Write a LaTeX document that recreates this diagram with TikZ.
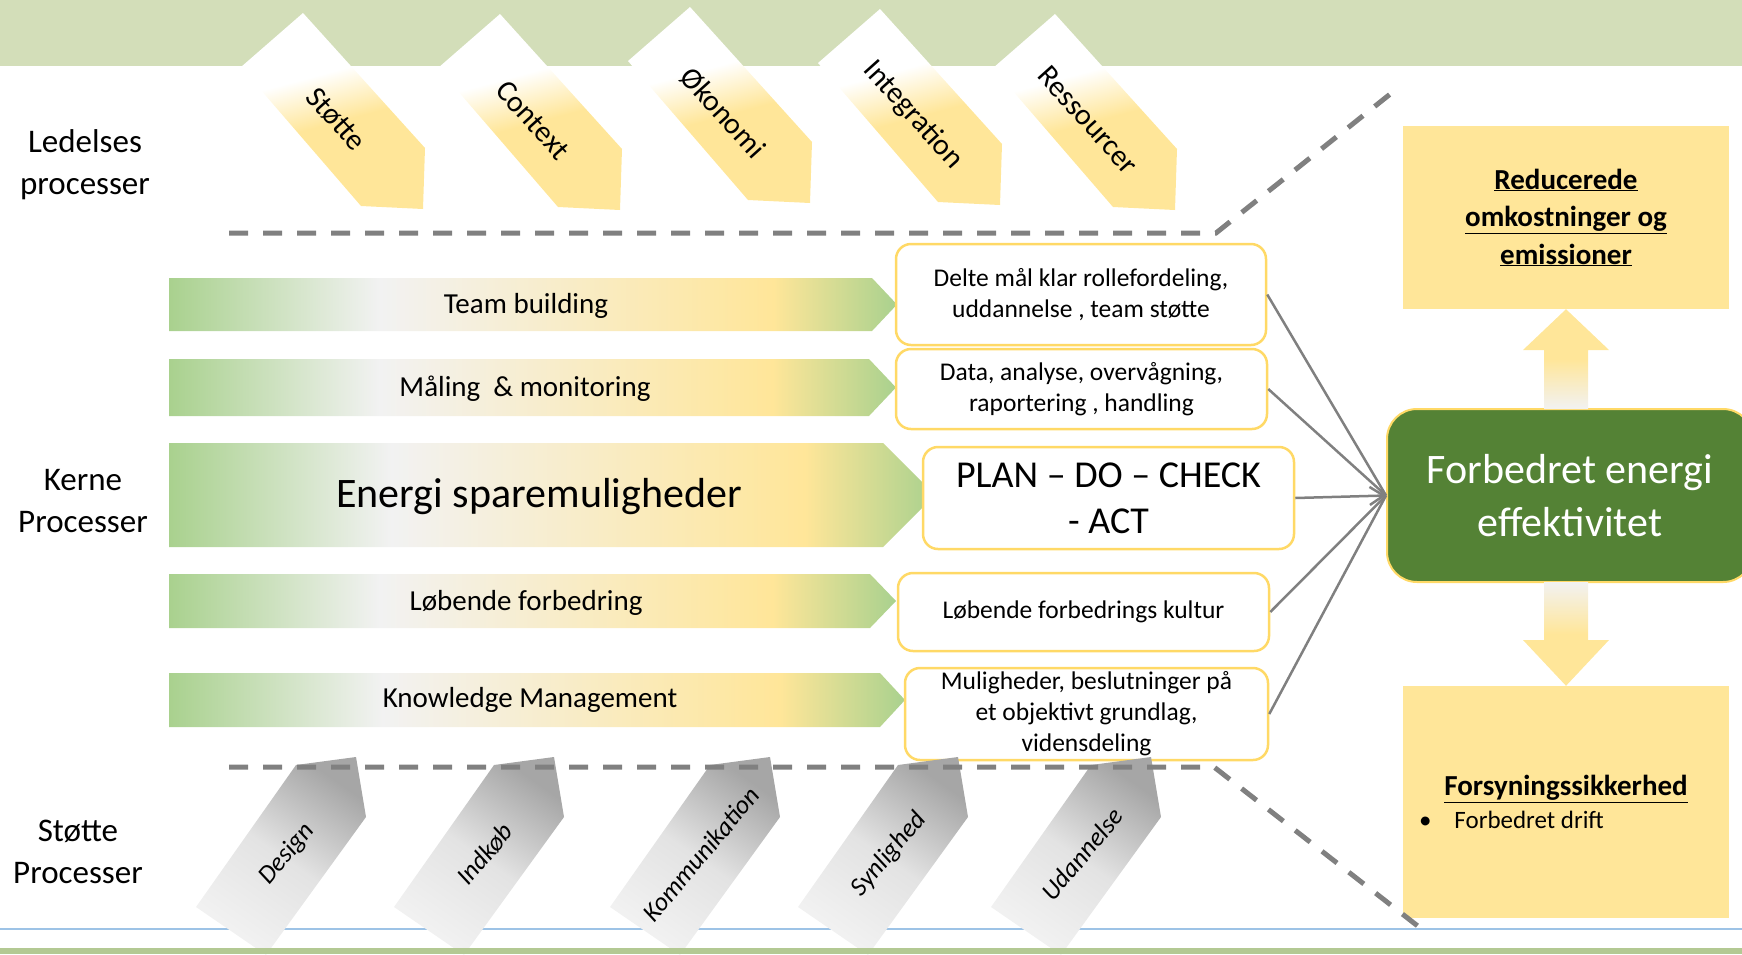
\documentclass[tikz,border=0pt]{standalone}
\usepackage{fontspec}
\setmainfont{Carlito}
\usepackage{tikz}
\usetikzlibrary{arrows.meta}

\definecolor{bandgreen}{HTML}{D3DEB9}
\definecolor{footgreen}{HTML}{B3C993}
\definecolor{lineblue}{HTML}{9DC3E6}
\definecolor{ledyellow}{HTML}{FFE699}
\definecolor{procgreen}{HTML}{A9D18E}
\definecolor{procwhite}{HTML}{F2F2F2}
\definecolor{boxyellow}{HTML}{FFD966}
\definecolor{effgreen}{HTML}{548235}
\definecolor{sepgrey}{HTML}{808080}
\definecolor{supdark}{HTML}{A6A6A6}

\pgfdeclarehorizontalshading{procshade}{100bp}{color(0bp)=(procgreen); color(25bp)=(procgreen); color(39.5bp)=(procwhite); color(66.5bp)=(ledyellow); color(75bp)=(procgreen); color(100bp)=(procgreen)}
\pgfdeclareverticalshading{ledshade}{100bp}{color(0bp)=(ledyellow); color(47bp)=(ledyellow); color(60bp)=(white); color(100bp)=(white)}

\begin{document}
\begin{tikzpicture}[x=1pt, y=-1pt,
  procarrow/.style={shading=procshade},
  procfont/.style={font=\fontsize{29}{35}\selectfont},
  infobox/.style={draw=boxyellow, line width=2.5pt, fill=white, rounded corners=15pt, align=center, inner sep=0pt, font=\fontsize{25.5}{31}\selectfont},
  sidelabel/.style={align=center, font=\fontsize{33}{42}\selectfont},
  link/.style={sepgrey, line width=2.5pt},
  sepline/.style={sepgrey, line width=5pt, dash pattern=on 19pt off 15pt},
  gainbox/.style={fill=ledyellow, align=center, inner sep=0pt, minimum width=326, font=\fontsize{29}{37.5}\selectfont\bfseries}]
\useasboundingbox (0,0) rectangle (1742,954);
\fill[bandgreen] (0,0) rectangle (1742,66);
\draw[lineblue, line width=1.5pt] (0,929) -- (1742,929);
%
\foreach \x/\y/\lab [count=\i] in {303/13/Støtte, 500/14/Context, 690/7/Økonomi, 880/9/Integration, 1055/14/Ressourcer}{
  \shade[shading=ledshade, shading angle=15] (\x,\y) -- ++(122,135) -- ++(-2,61) -- ++(-62,-3) -- ++(-120,-139) -- cycle;
  \node[rotate=-48, font=\fontsize{30}{36}\selectfont] (led\i) at (\x+33,\y+106) {\lab};
}
%
\node[sidelabel] (ledelses) at (85,165) {Ledelses\\processer};
\node[sidelabel] (kerne) at (83,501) {Kerne\\Processer};
\node[sidelabel] (stoette) at (78,852) {Støtte\\Processer};
%
\shade[procarrow] (169,278) -- (872,278) -- (897,304.5) -- (872,331) -- (169,331) -- cycle;
\shade[procarrow] (169,359) -- (869,359) -- (896,387.5) -- (869,416) -- (169,416) -- cycle;
\shade[procarrow] (169,443) -- (883,443) -- (935,495) -- (883,547) -- (169,547) -- cycle;
\shade[procarrow] (169,574) -- (870,574) -- (896,601) -- (870,628) -- (169,628) -- cycle;
\shade[procarrow] (169,673) -- (880,673) -- (905,700) -- (880,727) -- (169,727) -- cycle;
\node[procfont] (team) at (526,306) {Team building};
\node[procfont] (maaling) at (525,389) {Måling\ \ \& monitoring};
\node[font=\fontsize{42}{50}\selectfont] (energi) at (539,497) {Energi sparemuligheder};
\node[procfont] (loebende) at (526,603) {Løbende forbedring};
\node[procfont] (knowledge) at (530,700) {Knowledge Management};
%
\node[infobox, minimum width=370, minimum height=101] (delte) at (1081,294.5) {Delte mål klar rollefordeling,\\uddannelse , team støtte};
\node[infobox, minimum width=371, minimum height=80] (data) at (1081.5,389) {Data, analyse, overvågning,\\raportering , handling};
\node[infobox, minimum width=371, minimum height=102, font=\fontsize{38}{46}\selectfont] (pdca) at (1108.5,498) {PLAN – DO – CHECK\\- ACT};
\node[infobox, minimum width=371, minimum height=78] (kultur) at (1083.5,612) {Løbende forbedrings kultur};
\node[infobox, minimum width=363, minimum height=92] (mulig) at (1086.5,714) {Muligheder, beslutninger på\\et objektivt grundlag,\\vidensdeling};
%
\node[draw=boxyellow, line width=2pt, fill=effgreen, rounded corners=30pt, text=white, align=center, minimum width=366, minimum height=173, font=\fontsize{42}{53}\selectfont] (effekt) at (1570,495.5) {Forbedret energi\\effektivitet};
\foreach \n in {delte, data, kultur, mulig}
  \draw[link] (\n.east) -- (effekt.west);
\draw[link, -{Straight Barb[length=14pt, width=18pt]}] (pdca.east) -- (effekt.west);
%
\node[gainbox, minimum height=183] (reduc) at (1566,217.5) {\underline{Reducerede}\\\underline{omkostninger og}\\\underline{emissioner}};
\node[gainbox, minimum height=232] (forsyn) at (1566,802) {\underline{Forsyningssikkerhed}\\[-5pt]{\mdseries\fontsize{25}{31}\selectfont\makebox[300pt][l]{\hspace{3pt}\textbullet\hspace{23pt}Forbedret drift}}};
\shade[top color=ledyellow, bottom color=procwhite, middle color=ledyellow] (reduc.south) -- (1609,350) -- (1588,350) -- (1588,409) -- (1544,409) -- (1544,350) -- (1523,350) -- cycle;
\shade[top color=procwhite, bottom color=ledyellow, middle color=ledyellow] (1544,582) -- (1588,582) -- (1588,640) -- (1609,640) -- (forsyn.north) -- (1523,640) -- (1544,640) -- cycle;
%
\foreach \x/\lab [count=\i] in {296/Design, 494/Indkøb, 710/Kommunikation, 898/Synlighed, 1091/Udannelse}{
  \shade[top color=supdark, bottom color=procwhite, middle color=procwhite!80!supdark, shading angle=-35] (\x,765) -- ++(60,-8) -- ++(10,60) -- ++(-100,138) -- ++(-70,-48) -- cycle;
  \node[rotate=50, font=\fontsize{26}{31}\selectfont\itshape] (sup\i) at (\x-9,854) {\lab};
}
%
\draw[sepline] (229,233) -- (1216,233) -- (1394,91);
\draw[sepline] (229,767) -- (1214,767) -- (1419,927);
\fill[footgreen] (0,948) rectangle (1742,954);
\end{tikzpicture}
\end{document}
